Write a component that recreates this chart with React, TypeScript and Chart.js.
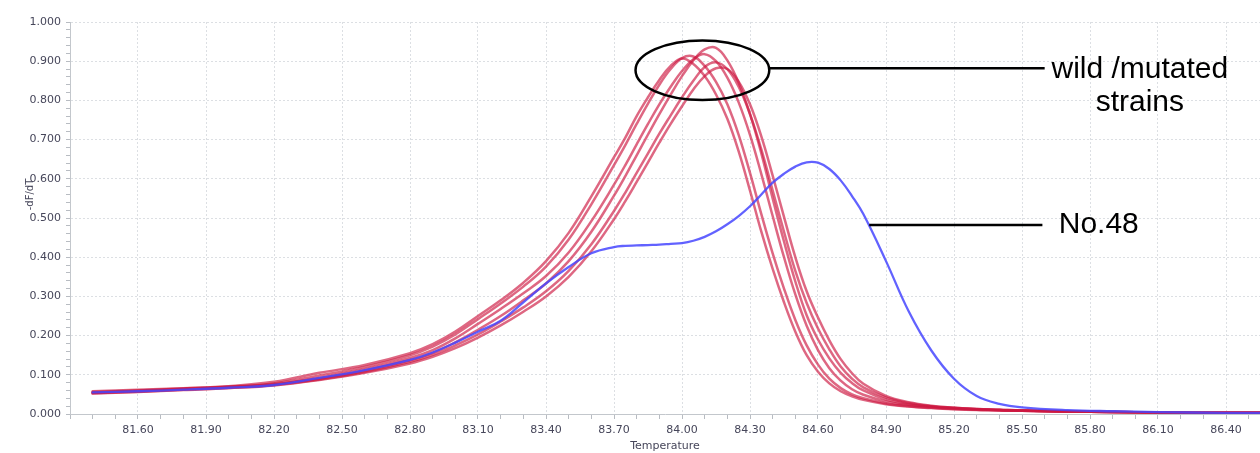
import React, { useEffect, useRef } from 'react';
import { Chart, registerables } from 'chart.js';

Chart.register(...registerables);

// ---- data ----
const temperatures = [
  81.40, 81.60, 81.80, 82.00, 82.20, 82.40, 82.60, 82.80, 82.90, 83.00,
  83.10, 83.20, 83.30, 83.40, 83.50, 83.60, 83.70, 83.75, 83.80, 83.85,
  83.90, 83.95, 84.00, 84.05, 84.10, 84.15, 84.20, 84.25, 84.30, 84.35,
  84.40, 84.45, 84.50, 84.55, 84.60, 84.65, 84.70, 84.75, 84.80, 84.90,
  85.00, 85.10, 85.20, 85.30, 85.40, 85.50, 85.70, 85.90, 86.10, 86.40, 86.60,
];

const strainA = [
  0.058, 0.062, 0.066, 0.071, 0.082, 0.105, 0.125, 0.155, 0.178, 0.210,
  0.250, 0.290, 0.335, 0.390, 0.462, 0.555, 0.655, 0.705, 0.760, 0.808,
  0.852, 0.888, 0.907, 0.893, 0.862, 0.815, 0.753, 0.670, 0.570, 0.465,
  0.370, 0.285, 0.210, 0.150, 0.108, 0.078, 0.058, 0.045, 0.036, 0.025,
  0.019, 0.015, 0.012, 0.010, 0.009, 0.008, 0.006, 0.005, 0.004, 0.003, 0.003,
];
const strainB = [
  0.056, 0.060, 0.065, 0.070, 0.078, 0.098, 0.120, 0.150, 0.172, 0.203,
  0.242, 0.282, 0.325, 0.376, 0.445, 0.535, 0.635, 0.686, 0.740, 0.792,
  0.840, 0.880, 0.908, 0.912, 0.888, 0.847, 0.790, 0.712, 0.615, 0.510,
  0.410, 0.320, 0.240, 0.175, 0.126, 0.090, 0.066, 0.050, 0.040, 0.027,
  0.020, 0.016, 0.013, 0.011, 0.009, 0.008, 0.006, 0.005, 0.004, 0.003, 0.003,
];
const strainC = [
  0.055, 0.059, 0.064, 0.069, 0.076, 0.092, 0.114, 0.143, 0.163, 0.193,
  0.230, 0.268, 0.308, 0.352, 0.412, 0.492, 0.585, 0.635, 0.688, 0.740,
  0.790, 0.835, 0.875, 0.905, 0.918, 0.900, 0.858, 0.795, 0.712, 0.612,
  0.505, 0.400, 0.305, 0.225, 0.163, 0.117, 0.085, 0.063, 0.049, 0.032,
  0.023, 0.018, 0.014, 0.012, 0.010, 0.008, 0.006, 0.005, 0.004, 0.003, 0.003,
];
const strainD = [
  0.054, 0.058, 0.063, 0.068, 0.075, 0.090, 0.110, 0.137, 0.156, 0.183,
  0.215, 0.250, 0.290, 0.333, 0.390, 0.465, 0.557, 0.607, 0.660, 0.713,
  0.765, 0.815, 0.862, 0.902, 0.930, 0.934, 0.902, 0.845, 0.765, 0.665,
  0.550, 0.440, 0.338, 0.252, 0.190, 0.142, 0.105, 0.079, 0.060, 0.037,
  0.025, 0.019, 0.015, 0.012, 0.010, 0.009, 0.007, 0.005, 0.004, 0.003, 0.003,
];
const strainE = [
  0.053, 0.057, 0.062, 0.067, 0.074, 0.088, 0.107, 0.133, 0.151, 0.175,
  0.203, 0.236, 0.272, 0.313, 0.365, 0.433, 0.518, 0.565, 0.615, 0.665,
  0.715, 0.762, 0.808, 0.850, 0.885, 0.897, 0.880, 0.835, 0.765, 0.675,
  0.570, 0.465, 0.365, 0.283, 0.218, 0.165, 0.121, 0.090, 0.068, 0.042,
  0.028, 0.020, 0.016, 0.013, 0.011, 0.009, 0.007, 0.005, 0.004, 0.003, 0.003,
];
const strainF = [
  0.052, 0.056, 0.061, 0.066, 0.073, 0.087, 0.105, 0.129, 0.146, 0.168,
  0.195, 0.226, 0.261, 0.300, 0.350, 0.415, 0.497, 0.543, 0.592, 0.642,
  0.692, 0.740, 0.785, 0.828, 0.862, 0.882, 0.880, 0.848, 0.790, 0.708,
  0.608, 0.503, 0.400, 0.313, 0.246, 0.188, 0.140, 0.104, 0.077, 0.046,
  0.030, 0.021, 0.016, 0.013, 0.011, 0.009, 0.007, 0.005, 0.004, 0.003, 0.003,
];
const no48 = [
  0.055, 0.058, 0.062, 0.067, 0.074, 0.092, 0.112, 0.138, 0.157, 0.182,
  0.210, 0.238, 0.285, 0.333, 0.375, 0.410, 0.426, 0.429, 0.430, 0.431,
  0.432, 0.434, 0.436, 0.442, 0.452, 0.466, 0.484, 0.505, 0.530, 0.560,
  0.590, 0.613, 0.631, 0.642, 0.641, 0.625, 0.596, 0.556, 0.510, 0.390,
  0.262, 0.162, 0.090, 0.046, 0.026, 0.017, 0.010, 0.007, 0.005, 0.003, 0.003,
];

const redSeries = [strainA, strainB, strainC, strainD, strainE, strainF];

const X_MIN = 81.3;
const X_MAX = 86.55;
const Y_MIN = 0;
const Y_MAX = 1;

const xAxisTitle = 'Temperature';
const yAxisTitle = '-dF/dT';
const wildLabel = ['wild /mutated', 'strains'];
const no48Label = 'No.48';

// ---- styles ----
const TICK_TEXT = '#46465a';
const GRID = '#dcdfe3';
const AXIS = '#c3c7cc';
const TICKMARK = '#b8bcc2';
const RED = 'rgba(205, 25, 65, 0.66)';
const BLUE = 'rgba(70, 70, 255, 0.85)';
const FONT = '"DejaVu Sans", Verdana, sans-serif';
const ANN_FONT = '30px "Liberation Sans", Arial, sans-serif';

const isXMajor = (v: number) => {
  const k = Math.round(v * 10);
  return k > 813 && k % 3 === 0;
};
const isYMajor = (v: number) => Math.round(v * 100) % 10 === 0;

const annotationPlugin = {
  id: 'callouts',
  afterDatasetsDraw(chart: any) {
    const { ctx, scales } = chart;
    const x = scales.x;
    const y = scales.y;
    ctx.save();
    // y axis title
    ctx.fillStyle = TICK_TEXT;
    ctx.font = `10px ${FONT}`;
    ctx.translate(30, y.getPixelForValue(0.56));
    ctx.rotate(-Math.PI / 2);
    ctx.textAlign = 'center';
    ctx.textBaseline = 'middle';
    ctx.fillText(yAxisTitle, 0, 0);
    ctx.restore();

    ctx.save();
    ctx.strokeStyle = '#000';
    ctx.fillStyle = '#000';
    ctx.lineWidth = 2.5;
    // ellipse around the peaks
    const cx = x.getPixelForValue(84.09);
    const cy = y.getPixelForValue(0.877);
    const rx = x.getPixelForValue(84.385) - cx;
    const ry = y.getPixelForValue(0.801) - cy;
    ctx.beginPath();
    ctx.ellipse(cx, cy, rx, ry, 0, 0, Math.PI * 2);
    ctx.stroke();
    // leader line for wild strains
    const ly = y.getPixelForValue(0.882);
    ctx.beginPath();
    ctx.moveTo(cx + rx, ly);
    ctx.lineTo(x.getPixelForValue(85.60), ly);
    ctx.stroke();
    // leader line for No.48
    const ny = y.getPixelForValue(0.482);
    ctx.beginPath();
    ctx.moveTo(x.getPixelForValue(84.826), ny);
    ctx.lineTo(x.getPixelForValue(85.59), ny);
    ctx.stroke();
    // texts
    ctx.font = ANN_FONT;
    ctx.textBaseline = 'alphabetic';
    ctx.textAlign = 'center';
    const tx = x.getPixelForValue(86.02);
    ctx.fillText(wildLabel[0], tx, y.getPixelForValue(0.857));
    ctx.fillText(wildLabel[1], tx, y.getPixelForValue(0.772));
    ctx.textAlign = 'left';
    ctx.fillText(no48Label, x.getPixelForValue(85.662), y.getPixelForValue(0.462));
    ctx.restore();
  },
};

export default function App() {
  const canvasRef = useRef<HTMLCanvasElement | null>(null);

  useEffect(() => {
    const canvas = canvasRef.current;
    if (!canvas) return;
    const toPoints = (vals: number[]) => temperatures.map((t, i) => ({ x: t, y: vals[i] }));

    const datasets: any[] = [
      {
        label: 'No.48',
        data: toPoints(no48),
        borderColor: BLUE,
        borderWidth: 2.3,
      },
      ...redSeries.map((vals, i) => ({
        label: `strain ${i + 1}`,
        data: toPoints(vals),
        borderColor: RED,
        borderWidth: 2.5,
      })),
    ];
    datasets.forEach((d) => {
      d.pointRadius = 0;
      d.fill = false;
      d.tension = 0.4;
      d.borderJoinStyle = 'round';
      d.borderCapStyle = 'round';
    });

    const chart = new Chart(canvas, {
      type: 'line',
      data: { datasets },
      options: {
        responsive: false,
        animation: false,
        devicePixelRatio: 1,
        layout: { padding: { top: 22, left: 0, right: 0, bottom: 0 } },
        plugins: {
          legend: { display: false },
          tooltip: { enabled: false },
          title: { display: false },
        },
        scales: {
          x: {
            type: 'linear',
            min: X_MIN,
            max: X_MAX,
            afterFit: (s: any) => {
              s.height = 39;
            },
            ticks: {
              stepSize: 0.1,
              autoSkip: false,
              maxRotation: 0,
              minRotation: 0,
              includeBounds: false,
              padding: 5,
              color: TICK_TEXT,
              font: { family: FONT, size: 11 },
              callback: (v: any) => (isXMajor(Number(v)) ? Number(v).toFixed(2) : ''),
            },
            grid: {
              color: (c: any) => (c.tick && isXMajor(c.tick.value) ? GRID : 'rgba(0,0,0,0)'),
              tickColor: TICKMARK,
              tickLength: 5,
              lineWidth: 1,
            },
            border: { display: true, color: AXIS, width: 1, dash: [2, 2] },
            title: {
              display: true,
              text: xAxisTitle,
              color: TICK_TEXT,
              font: { family: FONT, size: 11 },
              padding: { top: 0, bottom: 0 },
            },
          },
          y: {
            type: 'linear',
            min: Y_MIN,
            max: Y_MAX,
            afterFit: (s: any) => {
              s.width = 70;
            },
            ticks: {
              stepSize: 0.02,
              autoSkip: false,
              padding: 5,
              color: TICK_TEXT,
              font: { family: FONT, size: 11 },
              callback: (v: any) => (isYMajor(Number(v)) ? Number(v).toFixed(3) : ''),
            },
            grid: {
              color: (c: any) => (c.tick && isYMajor(c.tick.value) ? GRID : 'rgba(0,0,0,0)'),
              tickColor: TICKMARK,
              tickLength: 4,
              lineWidth: 1,
            },
            border: { display: true, color: AXIS, width: 1, dash: [2, 2] },
          },
        },
      } as any,
      plugins: [annotationPlugin],
    });

    return () => chart.destroy();
  }, []);

  return (
    <div
      style={{
        position: 'fixed',
        left: 0,
        top: 0,
        width: 1260,
        height: 453,
        background: '#ffffff',
        overflow: 'hidden',
      }}
    >
      <canvas ref={canvasRef} width={1260} height={453} style={{ display: 'block' }} />
    </div>
  );
}
